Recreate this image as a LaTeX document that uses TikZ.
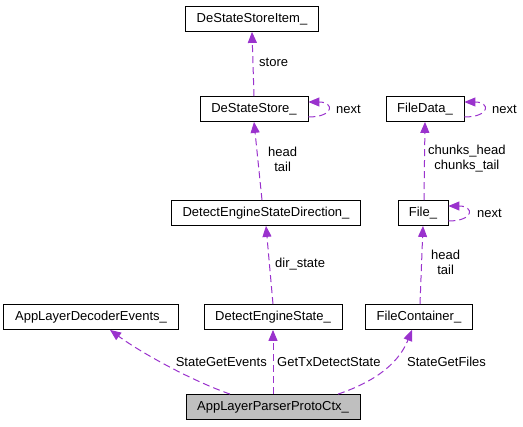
\documentclass[tikz,border=0pt]{standalone}
\usepackage{fontspec}
\setmainfont{Liberation Sans}
\usetikzlibrary{arrows.meta}
\definecolor{edgepurple}{HTML}{9A32CD}
\definecolor{curgray}{HTML}{BFBFBF}
\tikzset{
  cls/.style={draw=black, line width=0.8pt, minimum height=25pt, inner xsep=7pt, inner ysep=0pt, font=\fontsize{13}{15}\selectfont},
  dep/.style={edgepurple, line width=1pt, dash pattern=on 7pt off 4pt, -{Triangle[length=11pt,width=9pt]}},
  lbl/.style={font=\fontsize{13}{15}\selectfont, inner sep=0pt, align=center}
}
\begin{document}
\begin{tikzpicture}[x=1pt, y=-1pt]
                \useasboundingbox (0,0) rectangle (523,427);
                % classes
                \node[cls, minimum width=133pt] (item) at (252,19) {DeStateStoreItem\_};
                \node[cls, minimum width=108pt] (store) at (254,109) {DeStateStore\_};
                \node[cls, minimum width=189pt] (dir) at (266,213) {DetectEngineStateDirection\_};
                \node[cls, minimum width=78pt] (fdata) at (425,109) {FileData\_};
                \node[cls, minimum width=50pt] (file) at (423,213) {File\_};
                \node[cls, minimum width=175pt] (events) at (91,317) {AppLayerDecoderEvents\_};
                \node[cls, minimum width=138pt] (state) at (273,317) {DetectEngineState\_};
                \node[cls, minimum width=107pt] (fcont) at (419,317) {FileContainer\_};
                \node[cls, minimum width=174pt, fill=curgray] (proto) at (273,407) {AppLayerParserProtoCtx\_};
                % members of AppLayerParserProtoCtx_
                \draw[dep] ([xshift=-43pt]proto.north) .. controls (190,380) and (140,352) .. ([xshift=19pt]events.south);
                \draw[dep] (proto.north) -- (state.south);
                \draw[dep] ([xshift=65pt]proto.north) .. controls (380,380) and (400,360) .. ([xshift=-7pt]fcont.south);
                \node[lbl, anchor=east] (lev) at (267,362) {StateGetEvents};
                \node[lbl, anchor=west] (ldet) at (277,362) {GetTxDetectState};
                \node[lbl, anchor=west] (lfiles) at (407,362) {StateGetFiles};
                % detect state chain
                \draw[dep] (state.north) -- (dir.south);
                \node[lbl, anchor=west] (ldir) at (275,264) {dir\_state};
                \draw[dep] ([xshift=-4pt]dir.north) -- (store.south);
                \node[lbl, anchor=west] (lht) at (268,159) {head\\tail};
                \draw[dep] (store.north) -- (item.south);
                \node[lbl, anchor=west] (lstore) at (259,62) {store};
                \draw[dep] ([yshift=-8pt]store.east) .. controls +(26,0) and +(26,0) .. ([yshift=7pt]store.east);
                \node[lbl, anchor=west] (lsnext) at (336,109) {next};
                % file chain
                \draw[dep] ([xshift=1pt]fcont.north) -- (file.south);
                \node[lbl, anchor=west] (lfht) at (431,262) {head\\tail};
                \draw[dep] ([xshift=1pt]file.north) -- (fdata.south);
                \node[lbl, anchor=west] (lchunks) at (428,159) {chunks\_head\\chunks\_tail};
                \draw[dep] ([yshift=-8pt]file.east) .. controls +(26,0) and +(26,0) .. ([yshift=7pt]file.east);
                \node[lbl, anchor=west] (lfnext) at (477,213) {next};
                \draw[dep] ([yshift=-8pt]fdata.east) .. controls +(26,0) and +(26,0) .. ([yshift=7pt]fdata.east);
                \node[lbl, anchor=west] (ldnext) at (492,109) {next};
            \end{tikzpicture}
\end{document}
